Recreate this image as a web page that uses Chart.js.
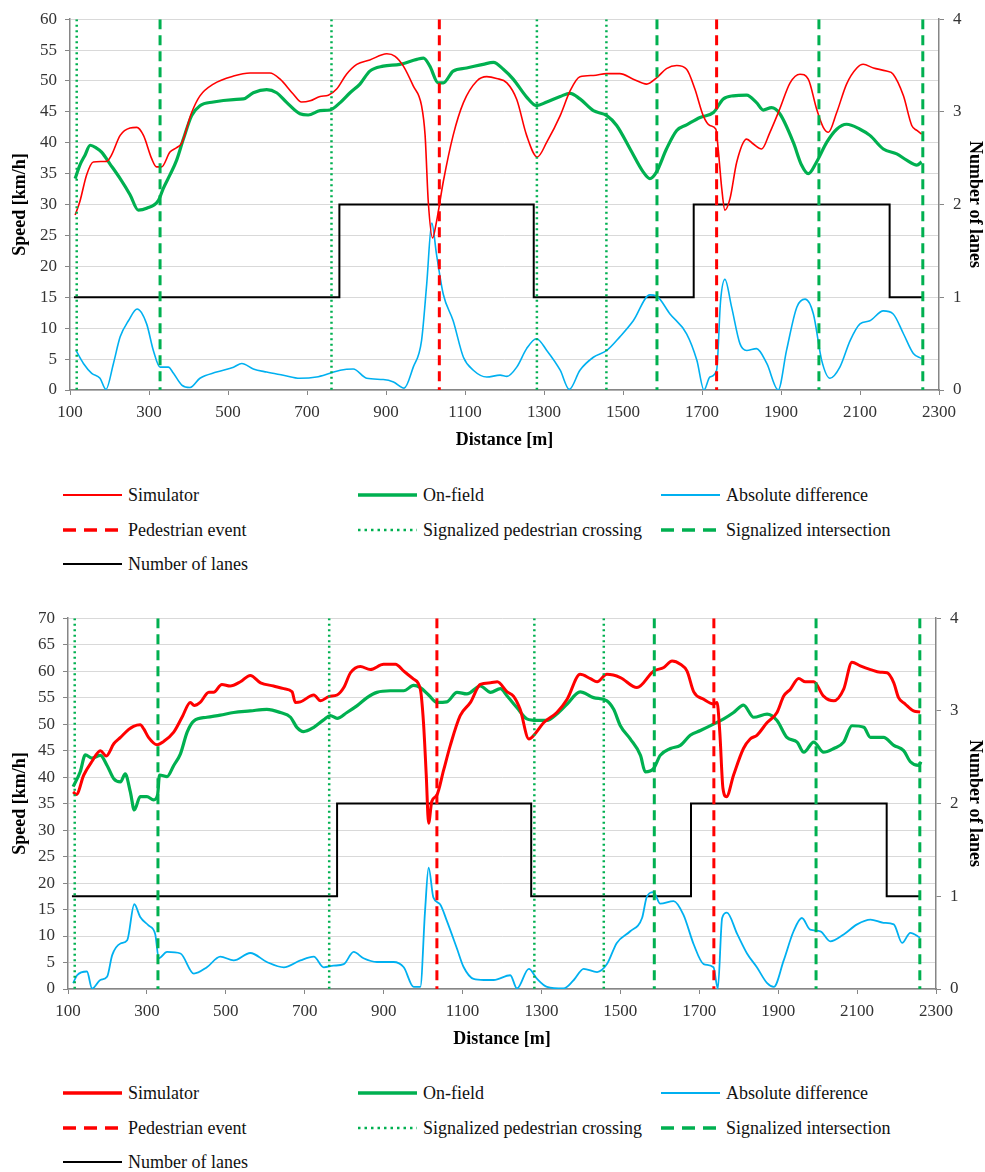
<!DOCTYPE html>
<html><head><meta charset="utf-8">
<script src="https://cdn.jsdelivr.net/npm/chart.js@4.4.0/dist/chart.umd.min.js"></script>
<style>
html,body{margin:0;padding:0;background:#fff;}
body{width:985px;height:1172px;position:relative;overflow:hidden;font-family:"Liberation Serif",serif;}
.wrap{position:absolute;left:0;width:985px;height:455px;}
.leg{position:absolute;left:0;width:985px;height:90px;}
.item{position:absolute;height:22px;width:320px;}
.item svg{position:absolute;left:0;top:6px;}
.item span{position:absolute;top:0;white-space:nowrap;font-size:18px;line-height:22px;color:#111;}
</style></head><body>
<div class="wrap" style="top:0"><canvas id="c1" width="985" height="455"></canvas></div>
<div class="leg" id="l1" style="top:484px"></div>
<div class="wrap" style="top:599px"><canvas id="c2" width="985" height="455"></canvas></div>
<div class="leg" id="l2" style="top:1082px"></div>
<script>
// ---------- shared ----------
const xTicksMin = 100, xTicksMax = 2300, xStep = 200;
const pedEvents = [1035, 1737];
const pedCrossings = [117, 762, 1282, 1458];
const intersections = [328, 1586, 1996, 2259];
const laneX = [110, 782, 1274, 1679, 2175, 2259];
const laneY = [1, 2, 1, 2, 1, 1];

// ---------- top chart ----------
const simTopX = [113,125,142,159,193,205,227,252,269,286,307,319,332,353,370,383,408,429,463,514,556,606,632,665,686,708,733,754,775,800,826,859,902,923,944,969,990,999,1007,1018,1028,1045,1070,1096,1130,1155,1180,1206,1231,1256,1283,1307,1341,1366,1391,1425,1459,1492,1526,1560,1585,1610,1636,1661,1682,1703,1720,1735,1741,1750,1758,1771,1788,1813,1830,1851,1872,1897,1923,1948,1969,1990,2007,2020,2041,2066,2092,2108,2134,2167,2184,2210,2231,2244,2256];
const simTopY = [28.3,30.5,34.8,36.9,37,38,41.2,42.4,42.5,41.2,37.4,36.1,36.1,38.5,39.2,40,44.9,47.6,49.5,50.8,51.3,51.3,50.3,47.9,46.6,46.8,47.5,47.7,48.7,51.1,52.7,53.4,54.4,54,52.4,49.2,46,41.2,30.5,24.6,27.3,33.7,41.2,46.5,50,50.7,50.4,49.7,47,41.2,37.7,40.1,44.4,48.4,50.7,50.9,51.2,51.2,50.3,49.5,50.5,52,52.5,51.9,48.7,44.4,42.8,42.2,39,32.6,29.1,31,36.9,40.6,39.8,39,41.7,45.5,49.7,51.1,50.3,45.5,42.5,41.7,44.9,49.5,52.1,52.7,52.1,51.6,51.1,47.6,42.8,42,41.4];
const onTopX = [113,125,138,151,168,180,201,227,252,273,294,324,336,353,370,387,408,429,463,514,539,564,598,623,649,682,703,733,758,784,809,834,859,893,935,978,995,1011,1032,1045,1070,1104,1146,1172,1197,1222,1256,1281,1307,1341,1366,1391,1425,1459,1484,1518,1551,1568,1585,1610,1636,1661,1695,1729,1754,1779,1813,1838,1855,1876,1897,1931,1952,1969,1990,2016,2041,2066,2100,2125,2159,2193,2218,2244,2256];
const onTopY = [34.2,36.4,38,39.6,39.1,38.5,36.6,34.2,31.6,29.1,29.4,30.7,32.6,34.8,37.2,40.6,44.4,46,46.6,47,47.1,48.1,48.6,48.1,46.5,44.7,44.5,45.2,45.3,46.5,48.1,49.5,51.6,52.4,52.7,53.5,53.7,52.4,49.7,49.7,51.6,52.1,52.7,53,51.9,50.3,47.4,46,46.6,47.5,48,47.1,45.2,44.4,42.8,39,35.3,34.2,35.3,39,42,42.9,44.1,44.9,47.1,47.6,47.7,46.5,45.3,45.7,44.7,40.1,36.4,35,36.9,40.1,42.2,43,42.2,41.2,39,38.2,37.2,36.4,36.9];
const absTopX = [115,134,155,176,191,210,227,248,270,294,311,328,349,362,383,404,429,471,514,535,564,598,640,682,724,758,784,817,851,893,919,946,969,990,1003,1016,1028,1045,1070,1096,1121,1155,1189,1206,1231,1256,1281,1307,1341,1364,1391,1425,1459,1492,1526,1568,1585,1619,1661,1687,1705,1720,1737,1747,1758,1775,1796,1813,1838,1864,1893,1914,1940,1961,1982,2003,2024,2049,2075,2100,2125,2159,2184,2210,2235,2256];
const absTopY = [6.4,4.3,2.7,1.9,0.1,4.3,8.6,11.2,13.1,10.7,6.4,3.7,3.7,2.7,0.8,0.4,1.9,2.9,3.7,4.3,3.4,2.9,2.4,1.9,2.1,2.7,3.2,3.4,1.9,1.7,1.3,0.3,3.7,8,17.1,27,21.9,15.5,11.2,5.3,3.2,2.1,2.4,2.2,3.7,6.7,8.3,6.4,3.2,0.1,3.2,5.3,6.4,8.6,11.2,15.4,15.2,12.3,9.1,4.8,0,2.1,3.2,14.4,17.9,13.4,7.5,6.4,6.7,4.3,0,6.4,13.4,14.7,12.3,4.8,1.9,3.7,8,10.7,11.2,12.8,12.3,9.1,5.9,5.1];

// ---------- bottom chart ----------
const simBotX = [113,121,140,161,182,197,216,233,254,266,283,292,304,326,342,368,389,410,420,435,457,469,490,511,537,562,588,621,647,668,676,689,723,740,761,782,799,816,841,866,900,930,951,976,993,1001,1008,1014,1022,1035,1052,1069,1094,1120,1145,1171,1188,1213,1229,1246,1268,1284,1306,1339,1365,1398,1424,1441,1466,1500,1542,1584,1610,1631,1652,1669,1686,1711,1736,1745,1752,1760,1769,1787,1812,1829,1846,1872,1897,1914,1931,1952,1969,1990,2015,2041,2066,2087,2108,2134,2159,2176,2193,2205,2222,2243,2260];
const simBotY = [37.2,36.7,40.4,43,45,44,46.3,47.5,49,49.6,49.9,49.1,47.5,46.1,46.7,48.5,51.3,54.1,53.5,54.1,56,56,57.5,57.2,58,59.2,57.8,57.2,56.7,56.1,54.1,54.2,55.5,54.4,55.2,55.5,56.9,59.7,60.9,60.3,61.3,61.3,60,58.5,56.6,50.3,40.4,31.3,35.4,36.6,41.3,46,51.6,54.1,57.5,57.8,58,56.1,55.3,52.8,47.2,48.2,50.3,52.2,54.7,59.4,58.6,58,59.4,58.8,56.9,60,60.7,61.9,61.3,60,56.1,54.7,53.8,54.1,48.5,37.9,36.3,40.4,45.4,47.2,47.9,50.3,52.2,55.3,56.6,58.6,58,58,55.3,54.4,56.6,61.7,61,60.3,59.8,59.7,57.8,55,53.8,52.5,52.3];
const onBotX = [113,131,144,161,182,199,216,233,245,258,268,283,300,317,327,332,351,368,385,402,419,452,486,520,562,604,638,664,680,697,723,748,765,782,807,833,858,883,917,951,976,993,1014,1035,1060,1086,1111,1145,1171,1196,1213,1238,1263,1289,1314,1339,1365,1398,1432,1466,1483,1500,1525,1551,1563,1584,1601,1627,1652,1677,1703,1736,1762,1787,1812,1838,1872,1897,1922,1948,1965,1990,2015,2041,2066,2087,2117,2134,2167,2193,2218,2235,2256,2262];
const onBotY = [38.2,41,44.2,43.6,44.1,42.2,39.7,39.1,40.6,37.2,33.8,36.3,36.3,35.7,36.6,40.4,40.1,42.2,44.4,48.5,50.6,51.3,51.7,52.2,52.5,52.8,52.2,51.3,49.4,48.6,49.4,50.8,51.6,51.1,52.2,53.5,55,56,56.3,56.3,57.3,56.9,55.5,54.1,54.2,56,55.7,57.2,56,56.7,55.3,53.1,51,50.7,50.7,51.9,53.8,56.1,55,54.4,52.8,49.7,47.2,44.1,41,41.6,44.1,45.4,46,47.9,48.8,50,51,52.2,53.6,51.3,51.9,50.7,47.5,46.6,44.7,46.6,44.7,45.4,46.6,49.7,49.4,47.5,47.5,46,45,42.9,42.2,42.9];
const absBotX = [113,123,148,161,182,199,212,233,250,268,283,304,321,330,351,385,419,452,486,520,562,604,647,689,723,748,773,799,824,849,883,925,951,976,993,1005,1014,1026,1043,1060,1086,1103,1128,1154,1179,1221,1238,1268,1289,1314,1356,1382,1407,1441,1466,1491,1525,1555,1567,1584,1601,1635,1660,1686,1711,1736,1747,1758,1770,1796,1821,1846,1872,1889,1914,1939,1960,1981,2007,2032,2066,2100,2134,2167,2193,2214,2235,2260];
const absBotY = [1.1,2.6,3.3,0.1,1.7,2.3,6.4,8.6,9.2,16,13.6,12,10.4,5.8,7,6.7,2.9,4.1,6.1,5.4,6.8,5.1,4.1,5.4,6.1,4.1,4.4,4.7,7,5.8,5.1,5.1,4.1,0.4,0.4,14.8,22.9,17.3,16,12.9,7.6,4.1,1.9,1.7,1.7,2.6,0.1,3.8,1.9,0.4,0.1,1.7,3.8,3.2,4.7,8.7,10.9,13.4,17.4,18.3,16.1,16.6,14,8.4,4.7,4.1,0.1,13.4,14.4,10.4,6.7,4.1,1.1,0.4,5.4,10.9,13.4,11.2,10.9,9,10.3,12.2,13.1,12.5,12.2,8.7,10.6,9.7];

// ---------- helpers ----------
const RED = '#ff0000', GREEN = '#00b050', BLUE = '#00b0f0', AXIS = '#868686', GRID = '#d9d9d9';
function pts(xs, ys) { return xs.map((x, i) => ({ x: x, y: ys[i] })); }
function vlines(xs, top) {
  const d = [];
  xs.forEach((x, i) => { if (i) d.push({ x: x, y: null }); d.push({ x: x, y: top }, { x: x, y: 0 }); });
  return d;
}

function build(canvasId, legendId, o) {
  const datasets = [
    { label: 'Number of lanes', data: pts(laneX, laneY), yAxisID: 'yL', borderColor: '#000', borderWidth: 2, stepped: 'before', order: 6, lg: 7, lw: 2 },
    { label: 'Pedestrian event', data: vlines(pedEvents, o.yMax), borderColor: RED, borderWidth: 3, borderDash: [10, 6], spanGaps: false, order: 1, lg: 4, lw: 3.5, ld: '13,8' },
    { label: 'Signalized pedestrian crossing', data: vlines(pedCrossings, o.yMax), borderColor: GREEN, borderWidth: 2.5, borderDash: [2, 3.5], spanGaps: false, order: 1, lg: 5, lw: 2.5, ld: '2.5,4' },
    { label: 'Signalized intersection', data: vlines(intersections, o.yMax), borderColor: GREEN, borderWidth: 3, borderDash: [10, 6], spanGaps: false, order: 1, lg: 6, lw: 3.5, ld: '13,8' },
    { label: 'Absolute difference', data: pts(o.absX, o.absY), borderColor: BLUE, borderWidth: o.absW, cubicInterpolationMode: 'monotone', order: 4, lg: 3, lw: 2 },
    { label: 'On-field', data: pts(o.onX, o.onY), borderColor: GREEN, borderWidth: 3.2, cubicInterpolationMode: 'monotone', order: 3, lg: 2, lw: 3.5 },
    { label: 'Simulator', data: pts(o.simX, o.simY), borderColor: RED, borderWidth: o.simW, cubicInterpolationMode: 'monotone', order: 2, lg: 1, lw: o.simW > 2 ? 3.5 : 2 }
  ];
  const tickFont = { family: '"Liberation Serif"', size: 17 };
  const titleFont = { family: '"Liberation Serif"', size: 18, weight: 'bold' };
  const plain = v => String(v);
  const chart = new Chart(document.getElementById(canvasId), {
    type: 'line',
    data: { datasets: datasets },
    options: {
      responsive: false, animation: false, devicePixelRatio: 1,
      layout: { padding: { top: 16, left: 0, right: 0, bottom: 0 } },
      plugins: { legend: { display: false }, tooltip: { enabled: false } },
      elements: { point: { radius: 0, hoverRadius: 0 }, line: { tension: 0 } },
      scales: {
        x: {
          type: 'linear', position: 'bottom', min: xTicksMin, max: xTicksMax,
          ticks: { stepSize: xStep, font: tickFont, color: '#333', padding: 7, maxRotation: 0, autoSkip: false, callback: plain },
          grid: { drawOnChartArea: false, tickLength: 5, tickColor: AXIS, color: AXIS },
          border: { color: AXIS, width: 1.5 },
          title: { display: true, text: 'Distance [m]', font: titleFont, color: '#000', padding: { top: 0, bottom: 4 } },
          afterFit: s => { s.height = 65; }
        },
        y: {
          position: 'left', min: 0, max: o.yMax,
          ticks: { stepSize: 5, font: tickFont, color: '#333', padding: 8, callback: plain },
          grid: { color: GRID, lineWidth: 1, tickLength: 5, tickColor: AXIS },
          border: { color: AXIS, width: 1.5 },
          title: { display: true, text: 'Speed [km/h]', font: titleFont, color: '#000', padding: { top: 10, bottom: 0 } },
          afterFit: s => { s.width = o.left; }
        },
        yL: {
          position: 'right', min: 0, max: 4,
          ticks: { stepSize: 1, font: tickFont, color: '#333', padding: 9, callback: plain },
          grid: { drawOnChartArea: false, tickLength: 5, tickColor: AXIS, color: AXIS },
          border: { color: AXIS, width: 1.5 },
          title: { display: true, text: 'Number of lanes', font: titleFont, color: '#000', padding: { top: 0, bottom: 0 } },
          afterFit: s => { s.width = o.right; }
        }
      }
    }
  });
  // legend built from the datasets
  const leg = document.getElementById(legendId);
  const cols = [63, 358, 661], rows = [0, 35, 69];
  datasets.slice().sort((a, b) => a.lg - b.lg).forEach((ds, i) => {
    const r = Math.floor(i / 3), c = i % 3;
    const div = document.createElement('div');
    div.className = 'item';
    div.style.left = cols[c] + 'px';
    div.style.top = rows[r] + 'px';
    div.innerHTML = '<svg width="60" height="10"><line x1="0" y1="5" x2="59" y2="5" stroke="' + ds.borderColor +
      '" stroke-width="' + ds.lw + '"' + (ds.ld ? ' stroke-dasharray="' + ds.ld + '"' : '') + '/></svg><span style="left:65px">' + ds.label + '</span>';
    leg.appendChild(div);
  });
  return chart;
}

build('c1', 'l1', { yMax: 60, simX: simTopX, simY: simTopY, onX: onTopX, onY: onTopY, absX: absTopX, absY: absTopY, simW: 1.6, absW: 1.6, left: 70, right: 46 });
build('c2', 'l2', { yMax: 70, simX: simBotX, simY: simBotY, onX: onBotX, onY: onBotY, absX: absBotX, absY: absBotY, simW: 3, absW: 1.8, left: 68, right: 49 });
</script>
</body></html>
